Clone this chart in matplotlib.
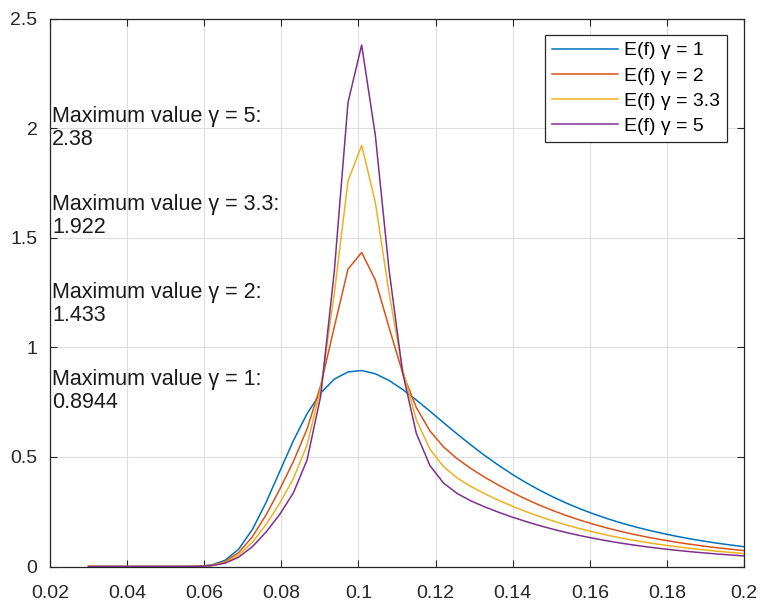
import matplotlib
matplotlib.use("Agg")
import matplotlib.pyplot as plt
from matplotlib.ticker import FormatStrFormatter

plt.rcParams['font.family'] = ['Liberation Sans', 'DejaVu Sans']

# frequency grid (Hz)
freq = [0.03 + 0.17 * k / 48 for k in range(49)]

# spectral density values
e_g1 = [0, 0, 0, 0, 0, 0, 0, 0.0001, 0.0009, 0.0068, 0.0283, 0.0796, 0.1692,
        0.2922, 0.4338, 0.5742, 0.6973, 0.7920, 0.8552, 0.8880, 0.8944,
        0.8796, 0.8492, 0.8079, 0.7600, 0.7087, 0.6563, 0.6043, 0.5545,
        0.5071, 0.4630, 0.4218, 0.3840, 0.3493, 0.3178, 0.2891, 0.2631,
        0.2395, 0.2182, 0.1988, 0.1814, 0.1657, 0.1515, 0.1386, 0.1269,
        0.1164, 0.1068, 0.0982, 0.0903]
e_g2 = [0, 0, 0, 0, 0, 0, 0, 0.0000, 0.0008, 0.0055, 0.0227, 0.0640, 0.1360,
        0.2352, 0.3520, 0.4792, 0.6273, 0.8258, 1.0941, 1.3571, 1.4330,
        1.3080, 1.0922, 0.8833, 0.7258, 0.6187, 0.5456, 0.4914, 0.4471,
        0.4078, 0.3720, 0.3389, 0.3085, 0.2806, 0.2553, 0.2323, 0.2114,
        0.1924, 0.1753, 0.1597, 0.1457, 0.1331, 0.1217, 0.1114, 0.1020,
        0.0935, 0.0858, 0.0789, 0.0726]
e_g33 = [0, 0, 0, 0, 0, 0, 0, 0.0000, 0.0006, 0.0045, 0.0185, 0.0521, 0.1108,
         0.1919, 0.2888, 0.4012, 0.5545, 0.8122, 1.2475, 1.7595, 1.9220,
         1.6626, 1.2500, 0.8991, 0.6699, 0.5352, 0.4556, 0.4038, 0.3652,
         0.3324, 0.3031, 0.2761, 0.2513, 0.2286, 0.2080, 0.1892, 0.1722,
         0.1568, 0.1428, 0.1301, 0.1187, 0.1085, 0.0992, 0.0907, 0.0831,
         0.0762, 0.0699, 0.0643, 0.0591]
e_g5 = [0, 0, 0, 0, 0, 0, 0, 0.0000, 0.0005, 0.0037, 0.0152, 0.0427, 0.0907,
        0.1573, 0.2378, 0.3360, 0.4858, 0.7774, 1.3499, 2.1179, 2.3800,
        1.9687, 1.3569, 0.8853, 0.6083, 0.4605, 0.3807, 0.3329, 0.2996,
        0.2723, 0.2482, 0.2260, 0.2058, 0.1872, 0.1703, 0.1549, 0.1410,
        0.1283, 0.1169, 0.1065, 0.0972, 0.0888, 0.0812, 0.0743, 0.0680,
        0.0624, 0.0572, 0.0526, 0.0484]

series = [e_g1, e_g2, e_g33, e_g5]
labels = ['E(f) γ = 1', 'E(f) γ = 2', 'E(f) γ = 3.3', 'E(f) γ = 5']
colors = ['#0072BD', '#D95319', '#EDB120', '#7E2F8E']

ann_text = ['Maximum value γ = 5:\n2.38', 'Maximum value γ = 3.3:\n1.922',
            'Maximum value γ = 2:\n1.433', 'Maximum value γ = 1:\n0.8944']
ann_y = [2.0, 1.6, 1.2, 0.8]

xticks = [0.02, 0.04, 0.06, 0.08, 0.1, 0.12, 0.14, 0.16, 0.18, 0.2]
yticks = [0, 0.5, 1, 1.5, 2, 2.5]

fig = plt.figure(figsize=(7.63, 6.04), dpi=100)
ax = fig.add_axes([50 / 763, 37.5 / 604, 694 / 763, 547.8 / 604])

for s, lab, c in zip(series, labels, colors):
    ax.plot(freq, s, color=c, lw=1.1, label=lab)

ax.set_xlim(0.02, 0.2)
ax.set_ylim(0, 2.5)
ax.set_xticks(xticks)
ax.set_yticks(yticks)
ax.xaxis.set_major_formatter(FormatStrFormatter('%g'))
ax.yaxis.set_major_formatter(FormatStrFormatter('%g'))
ax.grid(True, color='#dedede', lw=0.8)
ax.set_axisbelow(True)
ax.tick_params(direction='in', length=5, width=0.8, top=True, right=True,
               labelsize=14, colors='#262626')
ax.tick_params(axis='x', pad=13)
ax.tick_params(axis='y', pad=9)
for sp in ax.spines.values():
    sp.set_color('#262626')
    sp.set_linewidth(0.9)

for t, y in zip(ann_text, ann_y):
    ax.text(0.0205, y, t, fontsize=15.5, va='center', ha='left',
            color='#1a1a1a', linespacing=1.12)

leg = ax.legend(loc='upper right', bbox_to_anchor=(0.9755, 0.9703),
                fontsize=14, frameon=True, fancybox=False, framealpha=1,
                edgecolor='#262626', handlelength=3.4, handletextpad=0.3,
                labelspacing=0.39, borderpad=0.35, borderaxespad=0)
leg.get_frame().set_linewidth(0.9)

fig.savefig('out.png', dpi=100)
